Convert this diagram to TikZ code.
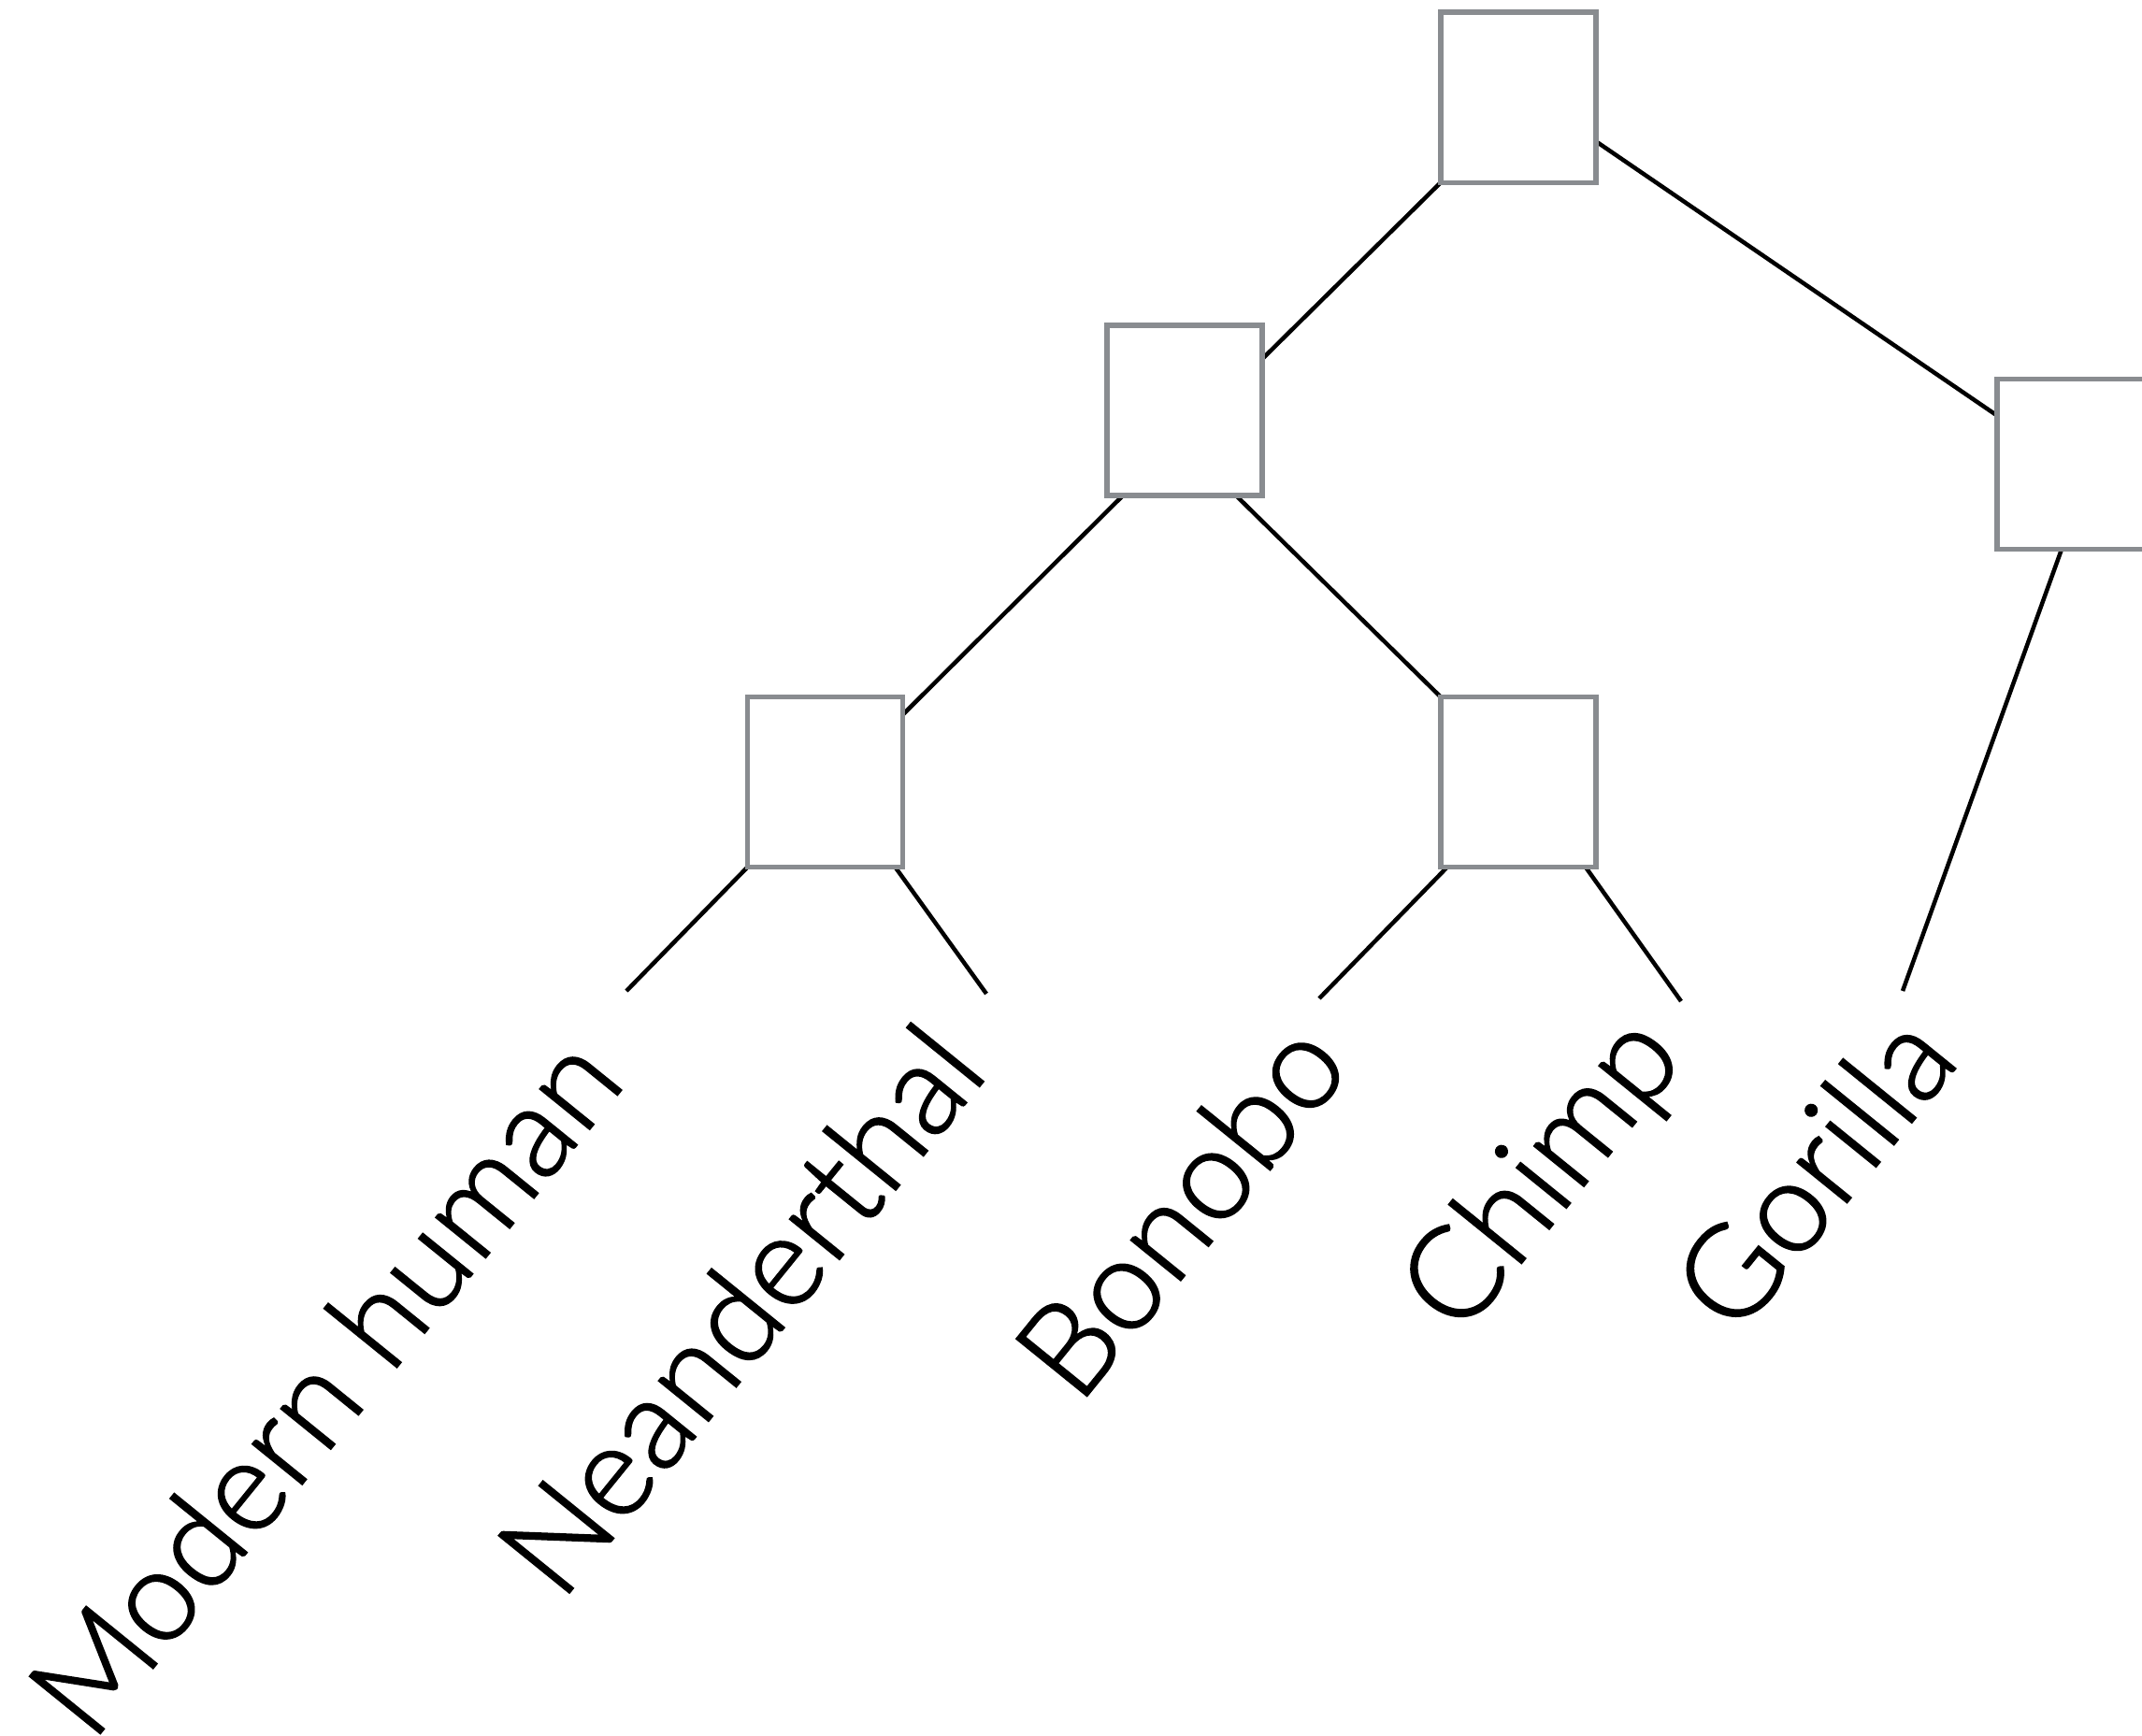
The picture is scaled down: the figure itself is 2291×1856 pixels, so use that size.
\documentclass[tikz,border=0pt]{standalone}
\usepackage{fontspec}
\IfFontExistsTF{Lato Light}
  {\newfontfamily\labelfont{Lato Light}[FakeBold=1.5]}
  {\newfontfamily\labelfont{TeX Gyre Heros}}
\usetikzlibrary{calc,backgrounds}
\definecolor{boxgray}{HTML}{898C90}
\begin{document}
\begin{tikzpicture}[x=0.01cm,y=-0.01cm,
  cladebox/.style={draw=boxgray, line width=0.055cm, fill=white,
    minimum width=1.66cm, minimum height=1.82cm, inner sep=0pt, outer sep=0pt},
  branch/.style={line width=0.045cm, draw=black},
  taxon/.style={font=\labelfont\fontsize{39}{39}\selectfont, rotate=51,
    anchor=base east, inner sep=0pt, outer sep=0pt}]
\useasboundingbox (0,0) rectangle (2291,1856);

% internal nodes of the tree
\node[cladebox] (root)   at (1623.9,104.2) {};
\node[cladebox] (mid)    at (1267,439)     {};
\node[cladebox] (right)  at (2219,496.5)   {};
\node[cladebox] (left)   at (882.5,836.5)  {};
\node[cladebox] (middle) at (1623.9,836.5) {};

% free ends of the leaf branches
\coordinate (mhEnd)  at (670,1060);
\coordinate (neaEnd) at (1055,1063);
\coordinate (bonEnd) at (1411,1068);
\coordinate (chiEnd) at (1798,1071);
\coordinate (gorEnd) at (2035,1060);

% branches, kept under the boxes
\begin{scope}[on background layer]
  \draw[branch] (root.south west) -- ($(mid.east)+(0,-55)$);
  \draw[branch] ($(root.east)+(0,47)$) -- ($(right.west)+(0,-52)$);
  \draw[branch] ($(mid.south)+(-66,0)$) -- ($(left.east)+(0,-72)$);
  \draw[branch] ($(mid.south)+(55,0)$) -- (middle.north west);
  \draw[branch] (left.south west) -- (mhEnd);
  \draw[branch] ($(left.south)+(75,0)$) -- (neaEnd);
  \draw[branch] ($(middle.south west)+(7,0)$) -- (bonEnd);
  \draw[branch] ($(middle.south)+(72,0)$) -- (chiEnd);
  \draw[branch] ($(right.south)+(-14,0)$) -- (gorEnd);
\end{scope}

% leaf labels
\node[taxon] (mh)  at (671,1158)  {Modern human};
\node[taxon] (nea) at (1059,1148) {Neanderthal};
\node[taxon] (bon) at (1447,1142) {Bonobo};
\node[taxon] (chi) at (1804,1133) {Chimp};
\node[taxon] (gor) at (2098,1135) {Gorilla};
\end{tikzpicture}
\end{document}
